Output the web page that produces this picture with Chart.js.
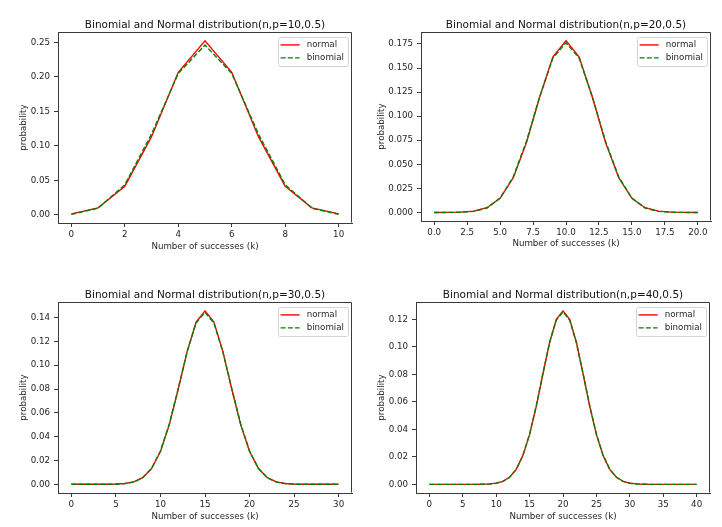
<!DOCTYPE html>
<html>
<head>
<meta charset="utf-8">
<script src="https://cdn.jsdelivr.net/npm/chart.js@4.4.0/dist/chart.umd.min.js"></script>
<style>
  html, body { margin: 0; padding: 0; background: #fff; }
  #wrap { position: relative; width: 722px; height: 527px; overflow: hidden; }
  canvas { position: absolute; }
</style>
</head>
<body>
<div id="wrap">
  <canvas id="c10" width="361" height="257" style="left:0;top:0"></canvas>
  <canvas id="c20" width="361" height="257" style="left:361px;top:0"></canvas>
  <canvas id="c30" width="361" height="257" style="left:0;top:270px"></canvas>
  <canvas id="c40" width="361" height="257" style="left:361px;top:270px"></canvas>
</div>
<script>
// values (k = 0..n)
const normal10 = [0.0017, 0.0103, 0.0417, 0.1134, 0.2066, 0.2523, 0.2066, 0.1134, 0.0417, 0.0103, 0.0017];
const binom10  = [0.0010, 0.0098, 0.0439, 0.1172, 0.2051, 0.2461, 0.2051, 0.1172, 0.0439, 0.0098, 0.0010];

const normal20 = [0.0000, 0.0001, 0.0003, 0.0013, 0.0049, 0.0146, 0.0360, 0.0725, 0.1196, 0.1614, 0.1784,
                  0.1614, 0.1196, 0.0725, 0.0360, 0.0146, 0.0049, 0.0013, 0.0003, 0.0001, 0.0000];
const binom20  = [0.0000, 0.0000, 0.0002, 0.0011, 0.0046, 0.0148, 0.0370, 0.0739, 0.1201, 0.1602, 0.1762,
                  0.1602, 0.1201, 0.0739, 0.0370, 0.0148, 0.0046, 0.0011, 0.0002, 0.0000, 0.0000];

const normal30 = [0.0000, 0.0000, 0.0000, 0.0000, 0.0000, 0.0002, 0.0007, 0.0020, 0.0056, 0.0132, 0.0275,
                  0.0501, 0.0800, 0.1116, 0.1363, 0.1457, 0.1363, 0.1116, 0.0800, 0.0501, 0.0275,
                  0.0132, 0.0056, 0.0020, 0.0007, 0.0002, 0.0000, 0.0000, 0.0000, 0.0000, 0.0000];
const binom30  = [0.0000, 0.0000, 0.0000, 0.0000, 0.0000, 0.0001, 0.0006, 0.0019, 0.0055, 0.0133, 0.0280,
                  0.0509, 0.0806, 0.1115, 0.1354, 0.1445, 0.1354, 0.1115, 0.0806, 0.0509, 0.0280,
                  0.0133, 0.0055, 0.0019, 0.0006, 0.0001, 0.0000, 0.0000, 0.0000, 0.0000, 0.0000];

const normal40 = [0.0000, 0.0000, 0.0000, 0.0000, 0.0000, 0.0000, 0.0000, 0.0000, 0.0001, 0.0003, 0.0009,
                  0.0022, 0.0051, 0.0109, 0.0209, 0.0361, 0.0567, 0.0804, 0.1033, 0.1200, 0.1262,
                  0.1200, 0.1033, 0.0804, 0.0567, 0.0361, 0.0209, 0.0109, 0.0051, 0.0022, 0.0009,
                  0.0003, 0.0001, 0.0000, 0.0000, 0.0000, 0.0000, 0.0000, 0.0000, 0.0000, 0.0000];
const binom40  = [0.0000, 0.0000, 0.0000, 0.0000, 0.0000, 0.0000, 0.0000, 0.0000, 0.0001, 0.0002, 0.0008,
                  0.0021, 0.0051, 0.0109, 0.0211, 0.0366, 0.0572, 0.0807, 0.1031, 0.1194, 0.1254,
                  0.1194, 0.1031, 0.0807, 0.0572, 0.0366, 0.0211, 0.0109, 0.0051, 0.0021, 0.0008,
                  0.0002, 0.0001, 0.0000, 0.0000, 0.0000, 0.0000, 0.0000, 0.0000, 0.0000, 0.0000];

// tick labels
const xTicks10 = [0, 2, 4, 6, 8, 10];
const yTicks10 = [0, 0.05, 0.10, 0.15, 0.20, 0.25];
const xTicks20 = [0, 2.5, 5, 7.5, 10, 12.5, 15, 17.5, 20];
const yTicks20 = [0, 0.025, 0.05, 0.075, 0.1, 0.125, 0.15, 0.175];
const xTicks30 = [0, 5, 10, 15, 20, 25, 30];
const yTicks30 = [0, 0.02, 0.04, 0.06, 0.08, 0.10, 0.12, 0.14];
const xTicks40 = [0, 5, 10, 15, 20, 25, 30, 35, 40];
const yTicks40 = [0, 0.02, 0.04, 0.06, 0.08, 0.10, 0.12];

const FONT = 'DejaVu Sans';
const SMALL = 8.7;
const TEXT = '#262626';
const EDGE = '#3a3a3a';

Chart.defaults.font.family = FONT;

// matplotlib-like box around the axes
const frame = {
    id: 'frame',
    afterDraw(chart) {
        const { ctx, chartArea: a } = chart;
        ctx.save();
        ctx.strokeStyle = EDGE;
        ctx.lineWidth = 1;
        const l = Math.round(a.left) + 0.5, r = Math.round(a.right) - 0.5;
        const t = Math.round(a.top) + 0.5, b = Math.round(a.bottom) - 0.5;
        ctx.beginPath();
        ctx.moveTo(l, b); ctx.lineTo(l, t); ctx.lineTo(r, t); ctx.lineTo(r, b);
        ctx.stroke();
        ctx.restore();
    }
};

// legend in the upper right corner of the plot
const cornerLegend = {
    id: 'cornerLegend',
    afterDraw(chart) {
        const { ctx, chartArea: a } = chart;
        const sets = chart.data.datasets;
        ctx.save();
        ctx.font = `${SMALL}px "${FONT}"`;
        const textW = Math.max(...sets.map(d => ctx.measureText(d.label).width));
        const w = 3 + 19 + 7 + textW + 3.5;
        const h = 29;
        const x = a.right - 4.5 - w;
        const y = a.top + 5;
        ctx.fillStyle = 'rgba(255,255,255,0.8)';
        ctx.strokeStyle = '#d4d4d4';
        ctx.lineWidth = 1;
        ctx.beginPath();
        ctx.roundRect(Math.round(x) + 0.5, Math.round(y) + 0.5, Math.round(w), h, 2);
        ctx.fill();
        ctx.stroke();
        sets.forEach((d, i) => {
            const cy = y + 7.8 + i * 13;
            ctx.strokeStyle = d.borderColor;
            ctx.lineWidth = d.borderWidth;
            ctx.setLineDash(d.borderDash || []);
            ctx.beginPath();
            ctx.moveTo(x + 3, cy);
            ctx.lineTo(x + 22, cy);
            ctx.stroke();
            ctx.setLineDash([]);
            ctx.fillStyle = TEXT;
            ctx.textBaseline = 'middle';
            ctx.fillText(d.label, x + 29, cy);
        });
        ctx.restore();
    }
};

function makeChart(id, n, normal, binom, xTicks, yTicks, xDec, yDec, yMin, yMax, box) {
    const ks = normal.map((_, i) => i);
    const pad = n / 20;
    new Chart(document.getElementById(id), {
        type: 'line',
        data: {
            datasets: [
                {
                    label: 'normal',
                    data: ks.map((k, i) => ({ x: k, y: normal[i] })),
                    borderColor: '#ff0000',
                    borderWidth: 1.4,
                    pointRadius: 0,
                    tension: 0,
                    fill: false,
                    order: 1
                },
                {
                    label: 'binomial',
                    data: ks.map((k, i) => ({ x: k, y: binom[i] })),
                    borderColor: '#008000',
                    borderWidth: 1.4,
                    borderDash: [5, 2.2],
                    pointRadius: 0,
                    tension: 0,
                    fill: false,
                    order: 0
                }
            ]
        },
        options: {
            responsive: false,
            animation: false,
            devicePixelRatio: 1,
            layout: { padding: { top: 0, left: 0, bottom: 0, right: box.right } },
            plugins: {
                legend: { display: false },
                tooltip: { enabled: false },
                title: {
                    display: true,
                    fullSize: false,
                    text: `Binomial and Normal distribution(n,p=${n},0.5)`,
                    color: '#111',
                    font: { size: 10.5, weight: 'normal' },
                    padding: { top: 18.5, bottom: 1 }
                }
            },
            scales: {
                x: {
                    type: 'linear',
                    min: -pad,
                    max: n + pad,
                    bounds: 'data',
                    afterBuildTicks: s => { s.ticks = xTicks.map(v => ({ value: v })); },
                    afterFit: s => { s.height = box.xh; },
                    grid: { display: true, drawOnChartArea: false, drawTicks: true, tickLength: 4, color: EDGE },
                    border: { display: true, color: EDGE, width: 1 },
                    ticks: {
                        autoSkip: false, maxRotation: 0, padding: 3, color: TEXT,
                        font: { size: SMALL },
                        callback: v => v.toFixed(xDec)
                    },
                    title: {
                        display: true, text: 'Number of successes (k)', color: TEXT,
                        font: { size: SMALL }, padding: { top: 0, bottom: box.xt }
                    }
                },
                y: {
                    type: 'linear',
                    min: yMin,
                    max: yMax,
                    bounds: 'data',
                    afterBuildTicks: s => { s.ticks = yTicks.map(v => ({ value: v })); },
                    afterFit: s => { s.width = box.yw; },
                    grid: { display: true, drawOnChartArea: false, drawTicks: true, tickLength: 4, color: EDGE },
                    border: { display: true, color: EDGE, width: 1 },
                    ticks: {
                        padding: 4, color: TEXT,
                        font: { size: SMALL },
                        callback: v => v.toFixed(yDec)
                    },
                    title: {
                        display: true, text: 'probability', color: TEXT,
                        font: { size: SMALL }, padding: { top: box.yt, bottom: 0 }
                    }
                }
            }
        },
        plugins: [frame, cornerLegend]
    });
}

makeChart('c10', 10, normal10, binom10, xTicks10, yTicks10, 0, 2, -0.0116, 0.2649,
    { right: 9, xh: 34, yw: 58, xt: 4.8, yt: 18.8 });
makeChart('c20', 20, normal20, binom20, xTicks20, yTicks20, 1, 3, -0.0089, 0.1873,
    { right: 11, xh: 36, yw: 60, xt: 8, yt: 15.6 });
makeChart('c30', 30, normal30, binom30, xTicks30, yTicks30, 0, 2, -0.0073, 0.1530,
    { right: 9, xh: 34, yw: 58, xt: 4.8, yt: 18.8 });
makeChart('c40', 40, normal40, binom40, xTicks40, yTicks40, 0, 2, -0.0063, 0.1325,
    { right: 12, xh: 34, yw: 55, xt: 4.8, yt: 15.6 });
</script>
</body>
</html>
